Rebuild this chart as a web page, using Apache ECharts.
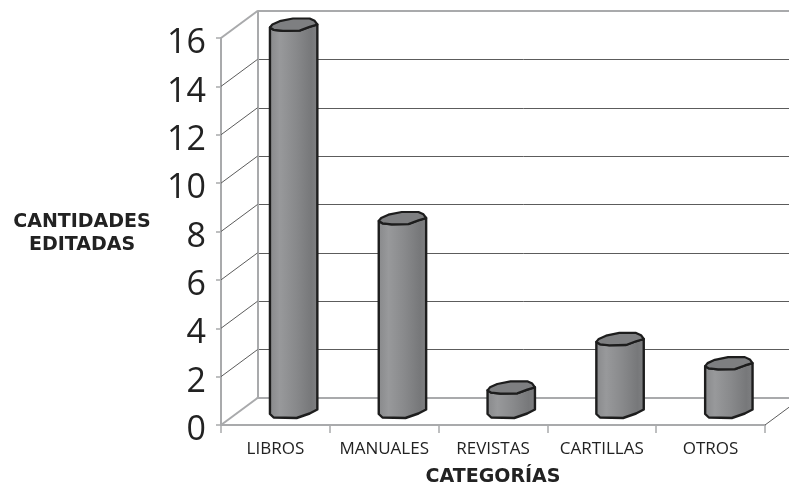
<!DOCTYPE html>
<html><head><meta charset="utf-8">
<style>html,body{margin:0;padding:0;background:#fff}#c{width:789px;height:485px}</style>
<script src="https://cdn.jsdelivr.net/npm/echarts@6/dist/echarts.min.js"></script>
</head><body><div id="c"></div>
<script>
const categories = ['LIBROS','MANUALES','REVISTAS','CARTILLAS','OTROS'];
const cantidades = [16,8,1,3,2];
const yTicks = [0,2,4,6,8,10,12,14,16];
const yTitle = 'CANTIDADES\nEDITADAS';
const xTitle = 'CATEGORÍAS';

const GRAY='#a9aaac', DARK='#5c5c5c', INK='#1d1d1d';
const DX=36.5, DY=-27;   // depth of the floor
const CAP=[[-23.7,3],[-20,5.3],[-10.7,6.3],[6,6],[16,2.3],[23.7,0],[21,-3.7],[16,-6],[-0.7,-6],[-14,-3.3],[-21.3,0]];
const BODY_TOP=[[-23.7,3],[-20,5.3],[-10.7,6.3],[6,6],[16,2.3],[23.7,0]];
const BODY_BOT=[[23.7,-2],[16,2],[3,6.5],[-20,6],[-23.7,2.5]];

function renderWall(params, api){
  const v=api.value(0), y=api.coord([0,v])[1], x=params.coordSys.x, r=x+params.coordSys.width;
  const edge=(v===0||v===16);
  const style={stroke:edge?GRAY:DARK,lineWidth:edge?2:1,fill:null};
  const kids=[{type:'line',shape:{x1:x,y1:y,x2:x+DX,y2:y+DY},style}];
  if(v===0) kids.push({type:'line',shape:{x1:r,y1:y,x2:r+DX,y2:y+DY},style:{stroke:DARK,lineWidth:1}});
  return {type:'group',children:kids};
}
function renderTopLine(params, api){
  const v=api.value(0), y=api.coord([0,v])[1], x=params.coordSys.x;
  return {type:'line',shape:{x1:x,y1:y,x2:x+params.coordSys.width,y2:y},style:{stroke:GRAY,lineWidth:2}};
}
function renderCyl(params, api){
  const c0=api.coord([api.value(0),0]), c1=api.coord([api.value(0),api.value(1)]);
  const cx=c0[0]+DX/2, yb=c0[1]+DY/2, yt=c1[1]+DY/2;
  const body=BODY_TOP.map(p=>[cx+p[0],yt+p[1]]).concat(BODY_BOT.map(p=>[cx+p[0],yb+p[1]]));
  const cap=CAP.map(p=>[cx+p[0],yt+p[1]]);
  const grad={type:'linear',x:0,y:0,x2:1,y2:0,colorStops:[
    {offset:0,color:'#87888a'},{offset:.22,color:'#98999b'},{offset:.55,color:'#88898b'},{offset:.85,color:'#77787a'},{offset:1,color:'#7f8082'}]};
  return {type:'group',children:[
    {type:'polygon',shape:{points:body},style:{fill:grad,stroke:INK,lineWidth:2.4,lineJoin:'round'}},
    {type:'polygon',shape:{points:cap},style:{fill:'#7e7f81',stroke:INK,lineWidth:2.2,lineJoin:'round'}}
  ]};
}

const chart=echarts.init(document.getElementById('c'),null,{renderer:'canvas'});
chart.setOption({
  animation:false,
  backgroundColor:'#fff',
  title:{text:yTitle,left:82,top:211,textAlign:'center',padding:0,
    textStyle:{color:'#222',fontFamily:'DejaVu Sans',fontWeight:'bold',fontSize:19,lineHeight:23}},
  grid:[
    {left:221,top:38,width:544,height:387,outerBoundsMode:'none'},
    {left:257.5,top:11,width:545,height:387,outerBoundsMode:'none'}
  ],
  xAxis:[
    {type:'category',gridIndex:0,data:categories,
     axisLine:{lineStyle:{color:GRAY,width:2}},
     axisTick:{show:true,length:8,lineStyle:{color:GRAY,width:1.5}},
     axisLabel:{color:'#222',fontFamily:'Open Sans',fontSize:17,margin:16,interval:0,hideOverlap:false},
     name:xTitle,nameLocation:'middle',nameGap:43,
     nameTextStyle:{color:'#222',fontFamily:'DejaVu Sans',fontWeight:'bold',fontSize:19}},
    {type:'category',gridIndex:1,data:categories,
     axisLine:{lineStyle:{color:GRAY,width:2}},axisTick:{show:false},axisLabel:{show:false}}
  ],
  yAxis:[
    {type:'value',gridIndex:0,min:0,max:16,interval:2,
     axisLine:{show:true,lineStyle:{color:GRAY,width:2}},
     axisTick:{show:true,length:5,lineStyle:{color:GRAY,width:1.5}},
     axisLabel:{color:'#222',fontFamily:'Open Sans',fontSize:34,margin:15,verticalAlign:'top',lineHeight:11,
       formatter:v=>yTicks.includes(v)?String(v):''},
     splitLine:{show:false}},
    {type:'value',gridIndex:1,min:0,max:16,interval:2,
     axisLine:{show:true,lineStyle:{color:GRAY,width:2}},axisTick:{show:false},axisLabel:{show:false},
     splitLine:{show:true,lineStyle:{color:DARK,width:1}}}
  ],
  series:[
    {type:'custom',xAxisIndex:0,yAxisIndex:0,clip:false,z:1,silent:true,renderItem:renderWall,
     data:yTicks.map(v=>[v]),encode:{y:0}},
    {type:'custom',xAxisIndex:1,yAxisIndex:1,clip:false,z:1,silent:true,renderItem:renderTopLine,
     data:[[16]],encode:{y:0}},
    {type:'custom',xAxisIndex:0,yAxisIndex:0,clip:false,z:5,renderItem:renderCyl,
     data:cantidades.map((v,i)=>[i,v]),encode:{x:0,y:1}}
  ]
});
</script></body></html>
